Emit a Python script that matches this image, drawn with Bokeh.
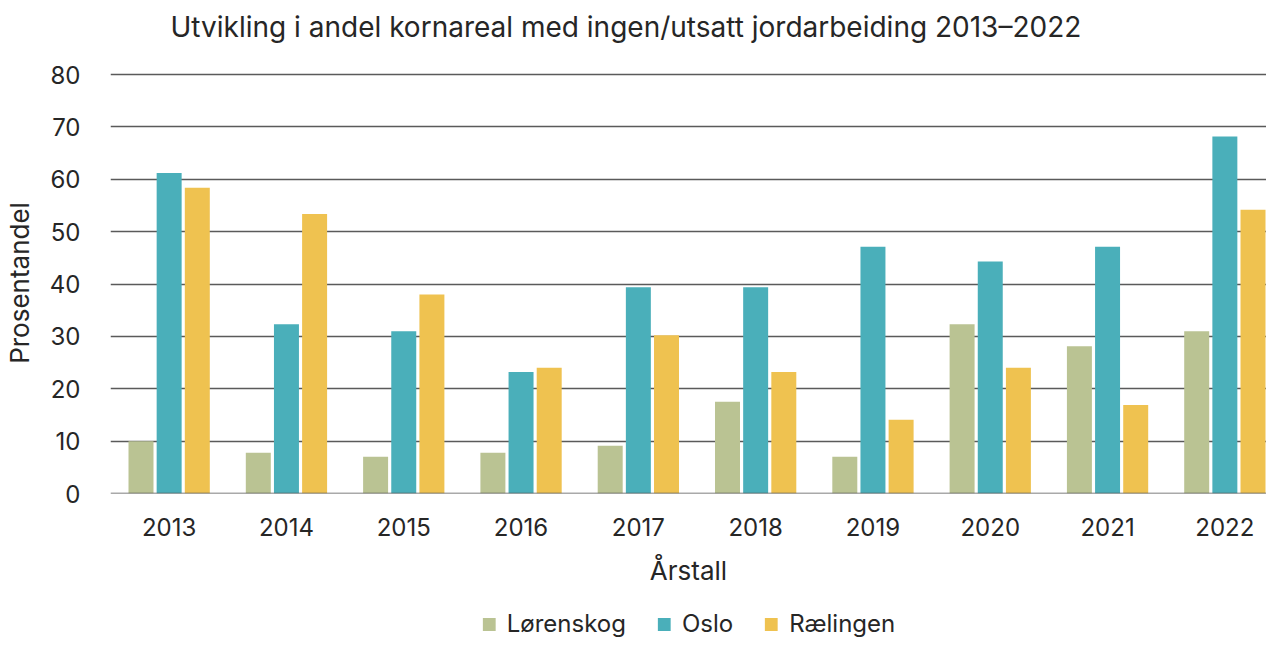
from bokeh.plotting import figure
from bokeh.layouts import column
from bokeh.models import ColumnDataSource, Range1d, FixedTicker, Legend, LegendItem, Span, Title
from bokeh.transform import dodge
from bokeh.embed import file_html
from bokeh.resources import INLINE

years = [2013, 2014, 2015, 2016, 2017, 2018, 2019, 2020, 2021, 2022]
lorenskog = [10.0, 7.8, 7.0, 7.8, 9.1, 17.5, 7.0, 32.3, 28.1, 31.0]
oslo = [61.2, 32.3, 31.0, 23.2, 39.4, 39.4, 47.1, 44.3, 47.1, 68.2]
raelingen = [58.4, 53.4, 38.0, 24.0, 30.2, 23.2, 14.1, 24.0, 16.9, 54.2]
series_names = ["Lørenskog", "Oslo", "Rælingen"]
colors = ["#BAC393", "#4AAFBA", "#EFC250"]
y_ticks = [0, 10, 20, 30, 40, 50, 60, 70, 80]
title_text = "Utvikling i andel kornareal med ingen/utsatt jordarbeiding 2013–2022"

FONT = "Inter"
TXT = "#262626"

src = ColumnDataSource(dict(year=years, l=lorenskog, o=oslo, r=raelingen))

p = figure(
    width=1266, height=594,
    x_range=Range1d(2012.5, 2022.355), y_range=Range1d(0, 80.4),
    output_backend="svg", toolbar_location=None,
    min_border_left=100, min_border_right=0, min_border_top=72, min_border_bottom=101,
)
p.outline_line_color = None
p.background_fill_color = "white"
p.border_fill_color = "white"

# spacer between frame and title, then the title itself (outermost)
p.add_layout(Title(text=" ", text_font_size="24px", standoff=0), "above")
p.add_layout(Title(text=title_text, text_font=FONT, text_font_size="28px",
                   text_font_style="normal", text_color=TXT, align="left",
                   offset=60, standoff=0), "above")

cols = ["l", "o", "r"]
offsets = [-0.24, 0.0, 0.24]
renderers = []
for c, off, col in zip(cols, offsets, colors):
    r = p.vbar(x=dodge("year", off), top=c, width=0.213, source=src,
               fill_color=col, line_color=None)
    renderers.append(r)

p.add_layout(Span(location=0, dimension="width", line_color="#555555", line_width=1.6))

p.xgrid.grid_line_color = None
p.ygrid.grid_line_color = "#5a5a5a"
p.ygrid.grid_line_width = 1.3
p.ygrid.ticker = FixedTicker(ticks=y_ticks)

p.yaxis.ticker = FixedTicker(ticks=y_ticks)
p.xaxis.ticker = FixedTicker(ticks=years)
for ax in (p.xaxis[0], p.yaxis[0]):
    ax.axis_line_color = None
    ax.major_tick_line_color = None
    ax.minor_tick_line_color = None
    ax.major_label_text_font = FONT
    ax.major_label_text_font_size = "24px"
    ax.major_label_text_color = TXT
    ax.axis_label_text_font = FONT
    ax.axis_label_text_font_size = "26px"
    ax.axis_label_text_font_style = "normal"
    ax.axis_label_text_color = TXT

p.xaxis.axis_label = "Årstall"
p.yaxis.axis_label = "Prosentandel"
p.xaxis.major_label_standoff = 18
p.xaxis.axis_label_standoff = 16
p.yaxis.major_label_standoff = 24
p.yaxis.axis_label_standoff = 12

# legend in its own strip below the chart
lg = figure(width=1266, height=44, x_range=Range1d(0, 1), y_range=Range1d(0, 1),
            output_backend="svg", toolbar_location=None,
            min_border_left=100, min_border_right=0, min_border_top=0, min_border_bottom=0)
lg.outline_line_color = None
lg.axis.visible = False
lg.grid.visible = False
lg_items = []
for n, col in zip(series_names, colors):
    rr = lg.vbar(x=[-10], top=[-10], bottom=[-11], width=0.1, fill_color=col, line_color=None)
    lg_items.append(LegendItem(label=n, renderers=[rr]))
legend = Legend(
    items=lg_items, orientation="horizontal", location="bottom_center",
    border_line_color=None, background_fill_alpha=0,
    label_text_font=FONT, label_text_font_size="24px", label_text_color=TXT,
    glyph_width=16, glyph_height=16, label_standoff=10, spacing=30,
    margin=0, padding=2,
)
lg.add_layout(legend, "center")

layout = column(p, lg, spacing=0)
open("out.html", "w").write(file_html(layout, INLINE))
